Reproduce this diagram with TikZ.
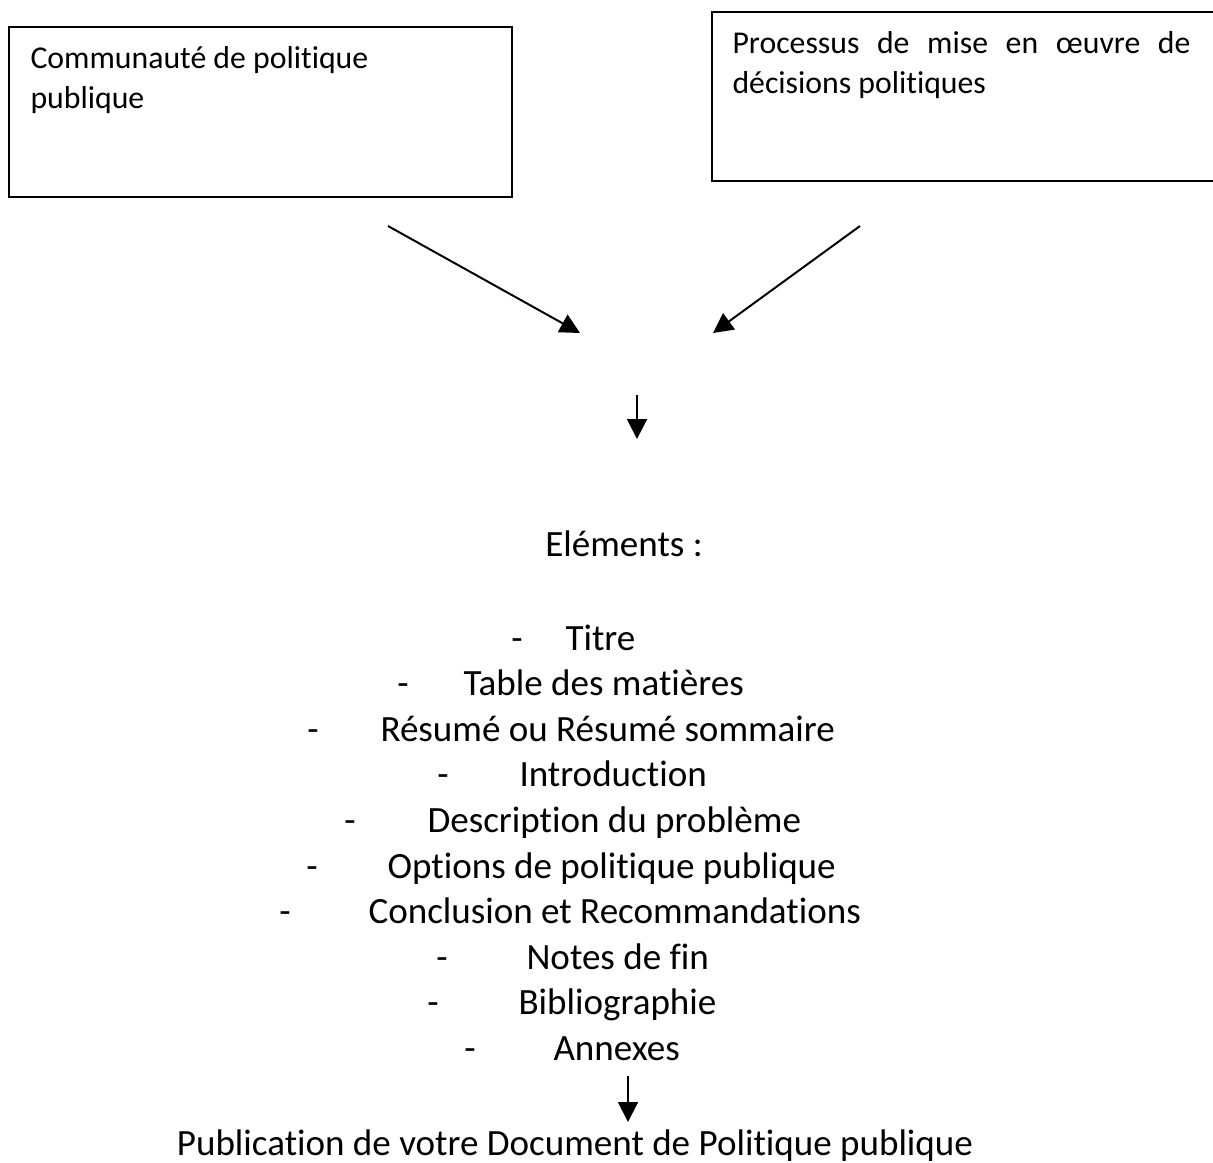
\documentclass[tikz,border=0pt]{standalone}
\usepackage{fontspec}
\setmainfont{Carlito}[Ligatures={TeX,NoCommon}]
\usepackage{tikz}
\usetikzlibrary{arrows.meta}

\tikzset{
    boxtext/.style={font=\fontsize{12}{14.6}\selectfont, inner sep=0pt, anchor=base west},
    itemtext/.style={font=\fontsize{14}{17}\selectfont, inner sep=0pt, anchor=base west},
    itemdash/.style={font=\fontsize{14}{17}\selectfont, inner sep=0pt, anchor=base},
    flowarrow/.style={line width=0.75pt, -{Triangle[length=7.5pt, width=7.5pt]}}
}

\begin{document}
\begin{tikzpicture}[x=0.3778pt, y=-0.3778pt]
    \useasboundingbox (0,0) rectangle (1213,1163);

    % Boxes
    \draw[line width=0.75pt] (9,27) rectangle (512,197);
    \draw[line width=0.75pt] (1213,12) -| (712,181) -- (1213,181);

    % Box labels
    \node[boxtext] (community1) at (30,68) {Communauté de politique};
    \node[boxtext] (community2) at (30,108) {publique};
    \node[boxtext] (process1) at (732,53) {\makebox[173pt][s]{Processus de mise en œuvre de}};
    \node[boxtext] (process2) at (732,93) {décisions politiques};

    % Arrows
    \coordinate (leftstart) at (388,226);
    \coordinate (lefttip) at (580,333);
    \coordinate (rightstart) at (860,226);
    \coordinate (righttip) at (713,333);
    \coordinate (midstart) at (637,395);
    \coordinate (midtip) at (637,439);
    \draw[flowarrow] (leftstart) -- (lefttip);
    \draw[flowarrow] (rightstart) -- (righttip);
    \draw[flowarrow] (midstart) -- (midtip);

    % Elements list
    \node[itemdash] (elements) at (624,556) {Eléments :};
    \foreach \dx/\tx/\itemname [count=\i from 0] in {
        517/565/Titre,
        403/463/Table des matières,
        313/380/Résumé ou Résumé sommaire,
        443/519/Introduction,
        350/427/Description du problème,
        312/387/Options de politique publique,
        285/368/Conclusion et Recommandations,
        442/526/Notes de fin,
        433/518/Bibliographie,
        470/553/Annexes} {
        \node[itemdash] (dash\i) at (\dx, 650+45.6*\i) {-};
        \node[itemtext] (item\i) at (\tx, 650+45.6*\i) {\itemname};
    }

    % Publication
    \coordinate (pubstart) at (628,1076);
    \coordinate (pubtip) at (628,1122);
    \draw[flowarrow] (pubstart) -- (pubtip);
    \node[itemdash] (publication) at (575,1155) {Publication de votre Document de Politique publique};
\end{tikzpicture}
\end{document}
